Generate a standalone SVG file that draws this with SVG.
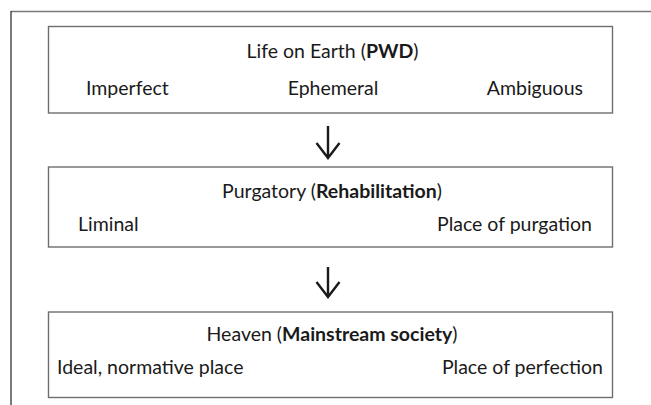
<svg xmlns="http://www.w3.org/2000/svg" width="651" height="405" viewBox="0 0 651 405">
  <style>
    .box { fill: #ffffff; stroke: #6e6e6e; stroke-width: 1.4; }
    .t { font-family: Lato, "Liberation Sans", sans-serif; font-size: 19.5px; fill: #1a1a1a; }
    .c { text-anchor: middle; }
    .r { text-anchor: end; }
    .b { font-weight: bold; }
    .arrow { fill: none; stroke: #1a1a1a; stroke-width: 2.4; stroke-linecap: butt; stroke-linejoin: miter; }
  </style>
  <rect width="651" height="405" fill="#ffffff"/>

  <!-- outer frame -->
  <g id="frame">
    <line x1="11" y1="11.5" x2="651" y2="11.5" stroke="#7a7a7a" stroke-width="1.3"/>
    <line x1="11" y1="11" x2="11" y2="405" stroke="#333333" stroke-width="1.3"/>
  </g>

  <!-- stage 1 -->
  <g id="earth">
    <rect class="box" x="48.5" y="26.5" width="564" height="86.5"/>
    <text class="t c" x="332.5" y="58">Life on Earth (<tspan class="b">PWD</tspan>)</text>
    <text class="t" x="86" y="95">Imperfect</text>
    <text class="t c" x="333" y="95">Ephemeral</text>
    <text class="t r" x="583" y="95">Ambiguous</text>
  </g>

  <!-- stage 2 -->
  <g id="purgatory">
    <rect class="box" x="48.5" y="167" width="564" height="80"/>
    <text class="t c" x="332" y="198">Purgatory (<tspan class="b">Rehabilitation</tspan>)</text>
    <text class="t" x="78" y="231">Liminal</text>
    <text class="t r" x="592" y="231">Place of purgation</text>
  </g>

  <!-- stage 3 -->
  <g id="heaven">
    <rect class="box" x="48.5" y="312" width="564" height="85.5"/>
    <text class="t c" x="332" y="341">Heaven (<tspan class="b">Mainstream society</tspan>)</text>
    <text class="t" x="57" y="374">Ideal, normative place</text>
    <text class="t r" x="603" y="374">Place of perfection</text>
  </g>

  <!-- connectors -->
  <g id="connectors">
    <path class="arrow" d="M328 126 V158 M316.5 143 L328 158 L339.5 143"/>
    <path class="arrow" d="M328 267 V297 M316.5 282 L328 297 L339.5 282"/>
  </g>
</svg>
